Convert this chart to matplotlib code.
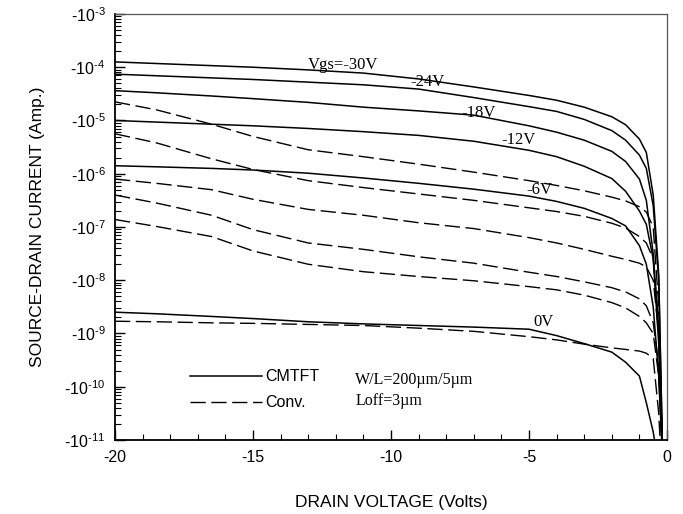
import numpy as np
import matplotlib; matplotlib.use('Agg')
import matplotlib.pyplot as plt
from matplotlib.ticker import FuncFormatter, MultipleLocator, LogLocator, NullFormatter

plt.rcParams['font.family'] = ['Liberation Sans', 'DejaVu Sans']
plt.rcParams['mathtext.fontset'] = 'custom'
plt.rcParams['mathtext.rm'] = 'Liberation Sans'
plt.rcParams['mathtext.it'] = 'Liberation Sans:italic'
plt.rcParams['axes.unicode_minus'] = False

# drain voltage grid (V)
vd = [-20, -18.5, -16.5, -15, -13, -11, -9, -7, -5, -4, -3, -2, -1.5, -1, -0.75, -0.5, -0.3, -0.15]

# log10 |Id|, CMTFT (solid)
cm_30 = [-3.90, -3.93, -3.97, -4.00, -4.05, -4.11, -4.22, -4.37, -4.53, -4.62, -4.75, -4.93, -5.08, -5.35, -5.60, -6.40, -7.90, -11.5]
cm_24 = [-4.13, -4.16, -4.20, -4.23, -4.28, -4.33, -4.41, -4.57, -4.74, -4.83, -4.98, -5.19, -5.37, -5.65, -5.90, -6.60, -8.00, -11.5]
cm_18 = [-4.44, -4.48, -4.54, -4.59, -4.66, -4.75, -4.82, -4.90, -5.10, -5.22, -5.37, -5.58, -5.77, -6.10, -6.50, -7.50, -9.00, -11.5]
cm_12 = [-5.00, -5.03, -5.07, -5.10, -5.15, -5.21, -5.28, -5.39, -5.56, -5.68, -5.86, -6.09, -6.33, -6.70, -6.95, -7.60, -9.20, -11.5]
cm_6 = [-5.85, -5.87, -5.90, -5.93, -5.99, -6.08, -6.18, -6.29, -6.42, -6.52, -6.65, -6.84, -6.98, -7.35, -7.70, -8.50, -9.80, -11.5]
cm_0 = [-8.60, -8.63, -8.68, -8.72, -8.78, -8.82, -8.85, -8.88, -8.92, -9.04, -9.19, -9.35, -9.54, -9.80, -10.30, -10.85, -11.5, -12.0]

# conventional TFT (dashed)
cv_30 = [-4.65, -4.80, -5.07, -5.30, -5.55, -5.68, -5.82, -5.97, -6.13, -6.22, -6.32, -6.44, -6.51, -6.62, -6.72, -7.00, -8.50, -11.5]
cv_24 = [-5.25, -5.42, -5.72, -5.92, -6.13, -6.26, -6.38, -6.50, -6.64, -6.71, -6.80, -6.93, -7.02, -7.18, -7.30, -7.60, -8.80, -11.5]
cv_18 = [-6.10, -6.18, -6.30, -6.48, -6.67, -6.78, -6.92, -7.03, -7.20, -7.30, -7.42, -7.55, -7.61, -7.68, -7.75, -8.00, -9.00, -11.5]
cv_12 = [-6.40, -6.55, -6.78, -7.05, -7.30, -7.42, -7.56, -7.68, -7.85, -7.93, -8.03, -8.14, -8.22, -8.35, -8.48, -8.80, -9.60, -11.5]
cv_6 = [-6.86, -6.99, -7.18, -7.45, -7.70, -7.84, -7.93, -8.01, -8.12, -8.18, -8.28, -8.42, -8.52, -8.68, -8.80, -9.00, -9.80, -11.5]
cv_0 = [-8.77, -8.78, -8.80, -8.81, -8.83, -8.85, -8.90, -8.96, -9.06, -9.12, -9.20, -9.27, -9.30, -9.33, -9.37, -9.47, -10.5, -12.0]

cm_curves = [cm_30, cm_24, cm_18, cm_12, cm_6, cm_0]
cv_curves = [cv_30, cv_24, cv_18, cv_12, cv_6, cv_0]

# curve labels: (text, Vd, log10 I)
vgs_labels = [('Vgs=-30V', -13.0, -3.96), ('-24V', -9.3, -4.28), ('-18V', -7.45, -4.86),
              ('-12V', -6.0, -5.37), ('-6V', -5.1, -6.31), ('0V', -4.85, -8.78)]

fig = plt.figure(figsize=(6.83, 5.14), dpi=100)
ax = fig.add_axes([0.1684, 0.144, 0.8082, 0.8288])

x = np.array(vd)
for i, c in enumerate(cm_curves):
    ax.plot(x, 10.0 ** np.array(c), color='black', lw=1.1,
            label='CMTFT' if i == 0 else None)
for i, c in enumerate(cv_curves):
    ax.plot(x, 10.0 ** np.array(c), color='black', lw=1.0, dashes=(11, 4),
            label='Conv.' if i == 0 else None)

for txt, xv, lv in vgs_labels:
    ax.text(xv, 10.0 ** lv, txt, family='Liberation Serif', fontsize=12,
            ha='left', va='center')

ax.text(-11.3, 10.0 ** -9.87, 'W/L=200µm/5µm', family='Liberation Serif', fontsize=11.5, va='center')
ax.text(-11.3, 10.0 ** -10.27, 'Loff=3µm', family='Liberation Serif', fontsize=11.5, va='center')

ax.set_yscale('log')
ax.set_xlim(-20, 0)
ax.set_ylim(1e-11, 1e-3)

ax.yaxis.set_major_locator(LogLocator(base=10, numticks=20))
ax.yaxis.set_minor_locator(LogLocator(base=10, subs=np.arange(2, 10), numticks=100))
ax.yaxis.set_minor_formatter(NullFormatter())
ax.yaxis.set_major_formatter(FuncFormatter(
    lambda v, p: r'-10$^{\text{-}%d}$' % abs(round(np.log10(v)))))
ax.xaxis.set_major_locator(MultipleLocator(5))
ax.xaxis.set_minor_locator(MultipleLocator(1))
ax.xaxis.set_major_formatter(FuncFormatter(lambda v, p: '%d' % v))

ax.tick_params(which='major', direction='in', length=7, width=1, labelsize=11.5, pad=7)
ax.tick_params(which='minor', direction='in', length=4, width=0.8)
ax.tick_params(top=False, right=False, which='both')
for s in ['left', 'bottom']:
    ax.spines[s].set_linewidth(1.3)
for s in ['top', 'right']:
    ax.spines[s].set_linewidth(0.9)
    ax.spines[s].set_color('#555555')

ax.set_xlabel('DRAIN VOLTAGE (Volts)', fontsize=12.5, labelpad=22)
ax.set_ylabel('SOURCE-DRAIN CURRENT (Amp.)', fontsize=12.5, labelpad=14)

ax.legend(loc='upper left', bbox_to_anchor=(0.11, 0.2), frameon=False, fontsize=11.5,
          handlelength=4.5, handletextpad=0.2, labelspacing=0.7)

fig.savefig('out.png', dpi=100)
